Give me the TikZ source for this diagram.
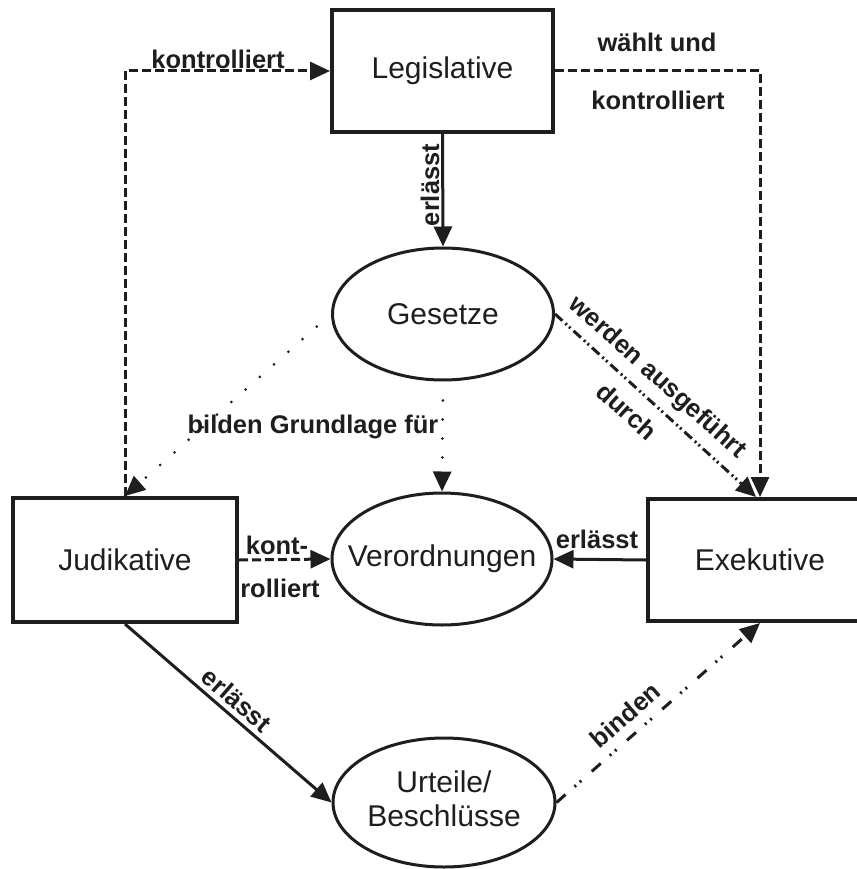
\documentclass[tikz,border=0pt]{standalone}
\usepackage{fontspec}
\setmainfont{Liberation Sans}
\usetikzlibrary{arrows.meta,shapes.geometric}
\definecolor{ink}{RGB}{30,30,30}
\tikzset{
  box/.style={draw=ink, text=ink, line width=4pt, inner sep=0pt,
    font=\fontsize{30}{34.5}\selectfont},
  oval/.style={draw=ink, text=ink, ellipse, line width=3pt, inner sep=0pt,
    font=\fontsize{30}{34.5}\selectfont},
  lbl/.style={text=ink, inner sep=0pt, font=\bfseries\fontsize{25.5}{28}\selectfont},
  conn/.style={draw=ink, line width=3pt, -{Triangle[length=20pt,width=18pt]}},
  dsh/.style={conn, dash pattern=on 9pt off 4pt},
  dtt/.style={conn, line cap=round, dash pattern=on 0pt off 19pt, dash phase=0.01pt},
  dddA/.style={conn, dash pattern=on 10pt off 4pt on 2pt off 3pt on 2pt off 4pt},
  dddB/.style={conn, dash pattern=on 12pt off 12pt on 2pt off 5pt on 2pt off 14pt},
}
\begin{document}
\begin{tikzpicture}[x=1pt,y=-1pt]
\useasboundingbox (0,0) rectangle (856,869);
\fill[white] (0,0) rectangle (856,869);

% nodes
\node[box, minimum width=221pt, minimum height=122pt] (leg) at (442.5,71) {Legislative};
\node[box, minimum width=224pt, minimum height=124pt] (jud) at (125,560) {Judikative};
\node[box, minimum width=224pt, minimum height=122pt] (exe) at (760,560) {Exekutive};
\node[oval, minimum width=221pt, minimum height=132pt] (ges) at (443,314) {\makebox[0pt]{Gesetze}};
\node[oval, minimum width=220pt, minimum height=132pt] (ver) at (442,559) {\makebox[0pt]{Verordnungen}};
\node[oval, minimum width=222pt, minimum height=129pt] (urt) at (444,802.5)
  {\makebox[0pt]{\begin{tabular}{@{}c@{}}Urteile/\\Beschlüsse\end{tabular}}};

% connectors
\draw[dsh] (jud.north) |- (leg.west);
\draw[dsh] (leg.east) -| (exe.north);
\draw[conn] (leg.south) -- (ges.north);
\draw[dddA] (ges.east) -- ([xshift=-4pt]exe.north);
\draw[dtt] (ges.west) -- (jud.north);
\draw[dtt] (ges.south) -- (ver.north);
\draw[dsh] (jud.east) -- (ver.west);
\draw[conn] (exe.west) -- (ver.east);
\draw[conn] (jud.south) -- (urt.west);
\draw[dddB] (urt.east) -- (exe.south);

% labels
\node[lbl] (l1) at (218,59) {kontrolliert};
\node[lbl] (l2) at (657,42) {wählt und};
\node[lbl] (l3) at (658,100) {kontrolliert};
\node[lbl, rotate=90] (l4) at (430,185) {erlässt};
\node[lbl, rotate=-42] (l5) at (657,378) {werden ausgeführt};
\node[lbl, rotate=-42] (l6) at (627,411) {durch};
\node[lbl] (l7) at (313,427) {bilden Grundlage für};
\node[lbl] (l8) at (277,545) {kont-};
\node[lbl] (l9) at (280,588) {rolliert};
\node[lbl] (l10) at (597,539) {erlässt};
\node[lbl, rotate=-41] (l11) at (237,700) {erlässt};
\node[lbl, rotate=41] (l12) at (625,715) {binden};
\end{tikzpicture}
\end{document}
